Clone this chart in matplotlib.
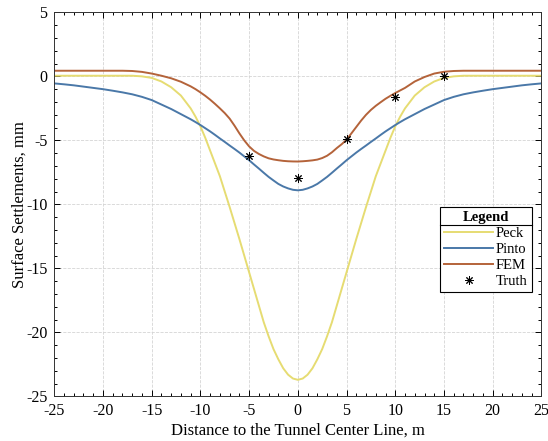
import matplotlib
matplotlib.use("Agg")
import matplotlib.pyplot as plt
from matplotlib.ticker import MultipleLocator
from matplotlib.lines import Line2D

# distance to tunnel center line (m), finer near the trough
x = ([-25, -24, -23, -22, -21, -20, -19, -18, -17, -16, -15, -14, -13, -12, -11]
     + [-10.5, -10, -9.5, -9, -8.5, -8, -7.5, -7, -6.5, -6, -5.5, -5, -4.5, -4,
        -3.5, -3, -2.5, -2, -1.5, -1, -0.5, 0, 0.5, 1, 1.5, 2, 2.5, 3, 3.5, 4,
        4.5, 5, 5.5, 6, 6.5, 7, 7.5, 8, 8.5, 9, 9.5, 10, 10.5]
     + [11, 12, 13, 14, 15, 16, 17, 18, 19, 20, 21, 22, 23, 24, 25])

# surface settlements (mm)
peck = ([0.05, 0.05, 0.05, 0.05, 0.05, 0.05, 0.05, 0.05, 0.05,
         0.0, -0.12, -0.4, -0.85, -1.5, -2.5]
        + [-3.15, -3.9, -4.8, -5.8, -6.8, -7.8, -9.0, -10.2, -11.45, -12.7,
           -14.0, -15.3, -16.6, -17.9, -19.2, -20.3, -21.3, -22.1, -22.8,
           -23.3, -23.6, -23.7, -23.6, -23.3, -22.8, -22.1, -21.3, -20.3,
           -19.2, -17.9, -16.6, -15.3, -14.0, -12.7, -11.45, -10.2, -9.0,
           -7.8, -6.8, -5.8, -4.8, -3.9, -3.15]
        + [-2.5, -1.5, -0.85, -0.4, -0.12, 0.0,
           0.05, 0.05, 0.05, 0.05, 0.05, 0.05, 0.05, 0.05, 0.05])

pinto = ([-0.55, -0.62, -0.7, -0.8, -0.9, -1.0, -1.12, -1.25, -1.4, -1.6,
          -1.85, -2.2, -2.55, -2.95, -3.35]
         + [-3.57, -3.8, -4.05, -4.3, -4.57, -4.85, -5.12, -5.4, -5.67, -5.95,
            -6.25, -6.55, -6.88, -7.2, -7.53, -7.85, -8.13, -8.4, -8.6,
            -8.75, -8.86, -8.9, -8.86, -8.75, -8.6, -8.4, -8.13, -7.85,
            -7.53, -7.2, -6.88, -6.55, -6.25, -5.95, -5.67, -5.4, -5.12,
            -4.85, -4.57, -4.3, -4.05, -3.8, -3.57]
         + [-3.35, -2.95, -2.55, -2.2, -1.85, -1.6, -1.4, -1.25, -1.12, -1.0,
            -0.9, -0.8, -0.7, -0.62, -0.55])

fem = ([0.44, 0.44, 0.44, 0.44, 0.44, 0.44, 0.44, 0.44, 0.42, 0.35,
        0.22, 0.05, -0.15, -0.42, -0.78]
       + [-1.0, -1.25, -1.52, -1.82, -2.15, -2.5, -2.87, -3.3, -3.85, -4.45,
          -5.0, -5.47, -5.82, -6.06, -6.25, -6.4, -6.49, -6.55, -6.6, -6.63,
          -6.645, -6.65, -6.63, -6.6, -6.56, -6.5, -6.38, -6.2, -5.93, -5.6,
          -5.3, -4.95, -4.45, -3.95, -3.45, -3.0, -2.62, -2.3, -2.02, -1.75,
          -1.52, -1.3, -1.1]
       + [-0.9, -0.4, -0.05, 0.22, 0.36, 0.42,
          0.44, 0.44, 0.44, 0.44, 0.44, 0.44, 0.44, 0.44, 0.44])

truth_x = [-5, 0, 5, 10, 15]
truth_y = [-6.2, -7.95, -4.9, -1.62, 0.0]

plt.rcParams['font.family'] = ['Liberation Serif', 'DejaVu Serif']
plt.rcParams['axes.unicode_minus'] = False

fig = plt.figure(figsize=(5.48, 4.41), dpi=100)
ax = fig.add_axes([0.099, 0.101, 0.889, 0.871])

ax.plot(x, peck, color='#e6dc72', lw=1.4, label='Peck')
ax.plot(x, pinto, color='#4a78a8', lw=1.4, label='Pinto')
ax.plot(x, fem, color='#b4633a', lw=1.4, label='FEM')
ax.plot(truth_x, truth_y, ls='none', marker=(8, 2, 0), ms=6, mew=0.7,
        color='black', label='Truth')

ax.set_xlim(-25, 25)
ax.set_ylim(-25, 5)
ax.xaxis.set_major_locator(MultipleLocator(5))
ax.xaxis.set_minor_locator(MultipleLocator(1))
ax.yaxis.set_major_locator(MultipleLocator(5))
ax.yaxis.set_minor_locator(MultipleLocator(1))
ax.tick_params(which='both', direction='in', top=True, right=True,
               labelsize=11.5, width=0.7)
ax.tick_params(which='major', length=4, pad=5)
ax.tick_params(which='minor', length=2)
ax.grid(True, which='major', ls='--', color='#d4d4d4', lw=0.6)
for s in ax.spines.values():
    s.set_linewidth(0.7)
    s.set_color('#333333')

ax.set_xlabel('Distance to the Tunnel Center Line, m', fontsize=12, labelpad=2)
ax.set_ylabel('Surface Settlements, mm', fontsize=12, labelpad=-1)

leg = ax.legend(title='Legend', loc='upper left', bbox_to_anchor=(0.792, 0.493),
                frameon=True, fancybox=False, edgecolor='black', framealpha=1,
                fontsize=10.5, title_fontproperties={'weight': 'bold', 'size': 10.5},
                handlelength=3.3, handletextpad=0.2, labelspacing=0.18,
                borderpad=0.3, borderaxespad=0)
leg.get_frame().set_linewidth(0.8)
leg._legend_box.sep = 2

# separator line under legend title, like matlab
fig.canvas.draw()
r = fig.canvas.get_renderer()
fb = leg.get_frame().get_window_extent(r)
tb = leg.get_title().get_window_extent(r)
inv = fig.transFigure.inverted()
(x0, y0) = inv.transform((fb.x0, tb.y0 - 1))
(x1, _) = inv.transform((fb.x1, tb.y0 - 1))
fig.add_artist(Line2D([x0, x1], [y0, y0], color='black', lw=0.8))

fig.savefig('out.png', dpi=100)
